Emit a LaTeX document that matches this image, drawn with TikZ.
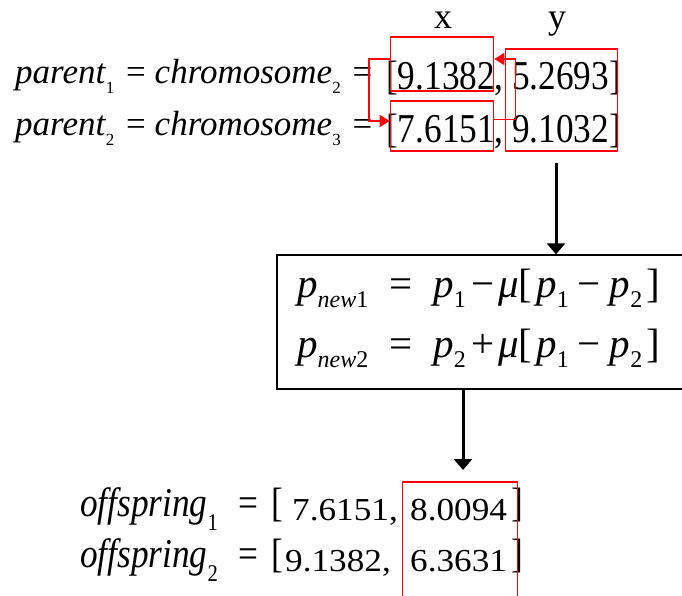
\documentclass[tikz,border=0pt]{standalone}
\usepackage{fontspec}
\setmainfont{Liberation Serif}
\newfontfamily\narrowfont{Liberation Serif}[FakeStretch=0.86]
\newfontfamily\widefont{Liberation Serif}[FakeStretch=1.1]
\usetikzlibrary{arrows.meta,positioning}

% subscript: size, drop, text
\newcommand{\lowsub}[3]{\raisebox{-#2pt}{\fontsize{#1}{#1}\selectfont #3}}

\begin{document}
\begin{tikzpicture}[x=1pt,y=1pt,
  txt/.style={anchor=base west, inner sep=0pt},
  redbox/.style={draw=red, line width=1.6pt, inner sep=0pt},
  swap/.style={draw=red, line width=1.6pt, -{Triangle[length=10pt,width=12pt]}},
  flow/.style={line width=3pt, -{Triangle[length=11pt,width=18pt]}}]
\clip (0,0) rectangle (682,-595);

% Parents
\node[anchor=base, inner sep=0pt] (xlab) at (443,-28) {\fontsize{36}{36}\selectfont x};
\node[anchor=base, inner sep=0pt] (ylab) at (557,-28) {\fontsize{36}{36}\selectfont y};
\node[txt] (par1) at (15,-83) {\fontsize{35}{35}\selectfont\textit{parent}\lowsub{17}{10}{1}\hspace{3pt} = \textit{chromosome}\lowsub{17}{10}{2}\hspace{3pt} =};
\node[txt] (par2) at (15,-135) {\fontsize{35}{35}\selectfont\textit{parent}\lowsub{17}{10}{2}\hspace{3pt} = \textit{chromosome}\lowsub{17}{10}{3}\hspace{3pt} =};
\node[txt] (n11) at (386,-89) {\fontsize{41}{41}\narrowfont [9.1382,};
\node[txt] (n12) at (512,-89) {\fontsize{41}{41}\narrowfont 5.2693]};
\node[txt] (n21) at (386,-142) {\fontsize{41}{41}\narrowfont [7.6151,};
\node[txt] (n22) at (512,-142) {\fontsize{41}{41}\narrowfont 9.1032]};

\node[redbox, minimum width=103pt, minimum height=54pt] (x1) at (442,-64) {};
\node[redbox, minimum width=103pt, minimum height=50pt] (x2) at (442,-126) {};
\node[redbox, minimum width=112pt, minimum height=102pt] (yb) at (561.5,-100) {};

% Exchange
\draw[swap] ([yshift=5pt]x1.west) -- ++(-21,0) |- ([yshift=5pt]x2.west);
\draw[swap] ([yshift=6.5pt]x2.east) -- ++(21,0) |- ([yshift=5pt]x1.east);

% Formula
\node[draw, line width=1.3pt, minimum width=413pt, minimum height=134pt] (fb) at (483.5,-322) {};
\node[txt] (f1) at (297,-297) {\fontsize{41}{41}\selectfont\textit{p}\lowsub{24}{10}{\textit{new}1}\hspace{21pt}=\hspace{21pt}\textit{p}\lowsub{24}{10}{1}\hspace{6pt}−\hspace{3pt}\textit{μ}[\hspace{4pt}\textit{p}\lowsub{24}{10}{1}\hspace{9pt}−\hspace{9pt}\textit{p}\lowsub{24}{10}{2}\hspace{4pt}]};
\node[txt] (f2) at (297,-357) {\fontsize{41}{41}\selectfont\textit{p}\lowsub{24}{10}{\textit{new}2}\hspace{21pt}=\hspace{21pt}\textit{p}\lowsub{24}{10}{2}\hspace{6pt}+\hspace{3pt}\textit{μ}[\hspace{4pt}\textit{p}\lowsub{24}{10}{1}\hspace{9pt}−\hspace{9pt}\textit{p}\lowsub{24}{10}{2}\hspace{4pt}]};

\coordinate (c1) at (556,-163);
\draw[flow] (c1) -- (c1 |- fb.north);
\coordinate (c2) at (463,-470);
\draw[flow] (c2 |- fb.south) -- (c2);

% Offspring
\node[txt] (off1) at (80,-516) {\fontsize{41}{41}\narrowfont\textit{offspring}\lowsub{24}{14}{1}\hspace{21pt}=\hspace{13pt}[};
\node[txt] (off2) at (80,-567) {\fontsize{41}{41}\narrowfont\textit{offspring}\lowsub{24}{14}{2}\hspace{21pt}=\hspace{13pt}[};
\node[txt] (o11) at (292,-520) {\fontsize{32}{32}\widefont 7.6151,};
\node[txt] (o12) at (410,-520) {\fontsize{32}{32}\widefont 8.0094};
\node[txt] (o21) at (285,-571) {\fontsize{32}{32}\widefont 9.1382,};
\node[txt] (o22) at (410,-571) {\fontsize{32}{32}\widefont 6.3631};
\node[txt] (ob1) at (511,-516) {\fontsize{41}{41}\narrowfont ]};
\node[txt] (ob2) at (511,-567) {\fontsize{41}{41}\narrowfont ]};
\node[redbox, minimum width=115pt, minimum height=120pt] (yo) at (460,-542) {};
\end{tikzpicture}
\end{document}
